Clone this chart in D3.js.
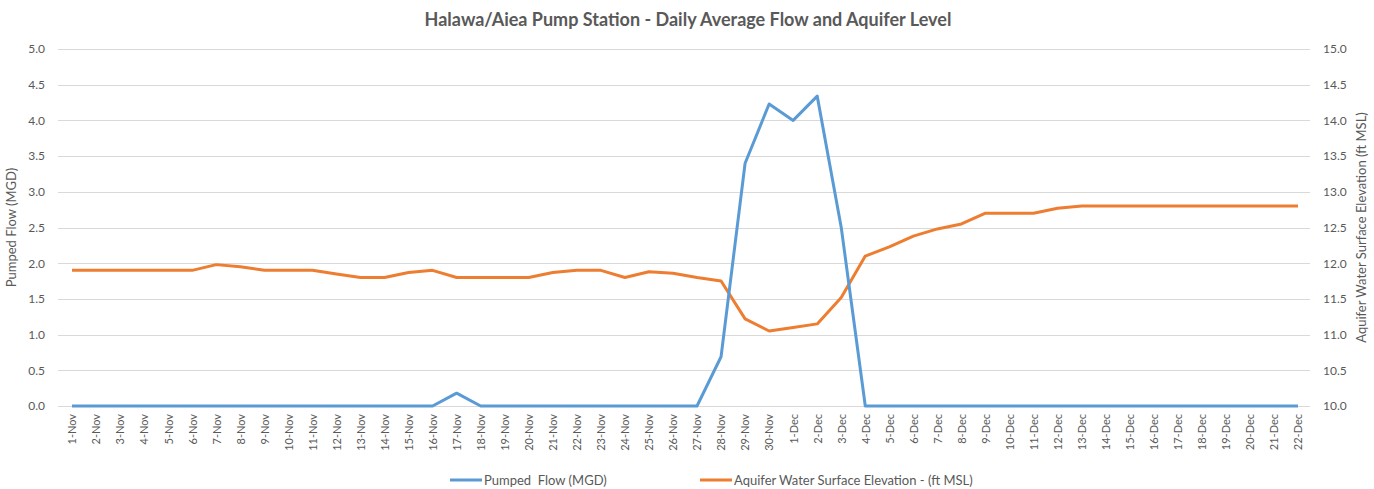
<!DOCTYPE html>
<meta charset="utf-8">
<style>
body { margin: 0; background: #fff; }
text { font-family: Lato, "Open Sans", sans-serif; fill: #595959; }
.grid line { stroke: #d9d9d9; stroke-width: 1px; }
.axis path, .axis line { display: none; }
</style>
<body>
<script src="https://d3js.org/d3.v7.min.js"></script>
<script>

// categories (days)
var days = [];
for (var i = 1; i <= 30; i++) days.push(i + "-Nov");
for (var j = 1; j <= 22; j++) days.push(j + "-Dec");

// pumped flow (MGD), left axis
var flow = [0,0,0,0,0,0,0,0,0,0,0,0,0,0,0,0,0.18,0,0,0,0,0,0,0,0,0,0,0.69,3.4,4.23,4.0,4.34,2.5,
	0,0,0,0,0,0,0,0,0,0,0,0,0,0,0,0,0,0,0];

// aquifer elevation (ft MSL), right axis
var level = [11.9,11.9,11.9,11.9,11.9,11.9,11.98,11.95,11.9,11.9,11.9,11.85,11.8,11.8,11.87,11.9,
	11.8,11.8,11.8,11.8,11.87,11.9,11.9,11.8,11.88,11.86,11.8,11.75,11.22,11.05,
	11.1,11.15,11.52,12.1,12.23,12.38,12.48,12.55,12.7,12.7,12.7,12.77,12.8,12.8,12.8,
	12.8,12.8,12.8,12.8,12.8,12.8,12.8];

var leftTicks = [0,0.5,1,1.5,2,2.5,3,3.5,4,4.5,5];
var rightTicks = [10,10.5,11,11.5,12,12.5,13,13.5,14,14.5,15];

var W = 1374, H = 489;
var margin = {top: 49, right: 64, bottom: 83, left: 60};

var svg = d3.select("body").append("svg")
	.attr("width", W)
	.attr("height", H);

var x = d3.scalePoint()
	.domain(days)
	.range([margin.left, W - margin.right])
	.padding(0.5);

var yL = d3.scaleLinear().domain([0, 5]).range([H - margin.bottom, margin.top]);
var yR = d3.scaleLinear().domain([10, 15]).range([H - margin.bottom, margin.top]);

// gridlines
svg.append("g").attr("class", "grid")
	.selectAll("line")
	.data(leftTicks)
	.enter().append("line")
		.attr("x1", margin.left - 2)
		.attr("x2", W - margin.right)
		.attr("y1", function(d) { return Math.round(yL(d)) + 0.5; })
		.attr("y2", function(d) { return Math.round(yL(d)) + 0.5; });

// left axis
svg.append("g").attr("class", "axis")
	.attr("transform", "translate(" + (margin.left - 12) + ",0)")
	.call(d3.axisLeft(yL).tickValues(leftTicks).tickFormat(d3.format(".1f")).tickSize(0))
	.selectAll("text").style("font-size", "12px").attr("fill", "#595959");

// right axis
svg.append("g").attr("class", "axis")
	.attr("transform", "translate(" + (W - margin.right + 10) + ",0)")
	.call(d3.axisRight(yR).tickValues(rightTicks).tickFormat(d3.format(".1f")).tickSize(0))
	.selectAll("text").style("font-size", "12px").attr("fill", "#595959");

// x axis labels
svg.append("g").attr("class", "axis")
	.attr("transform", "translate(0," + (H - margin.bottom + 4) + ")")
	.call(d3.axisBottom(x).tickSize(0))
	.selectAll("text")
		.style("font-size", "11px")
		.attr("fill", "#595959")
		.attr("text-anchor", "end")
		.attr("transform", "rotate(-90)")
		.attr("x", -4)
		.attr("y", 0)
		.attr("dy", "0.35em");

// lines
var flowLine = d3.line()
	.x(function(d, i) { return x(days[i]); })
	.y(function(d) { return yL(d); });

var levelLine = d3.line()
	.x(function(d, i) { return x(days[i]); })
	.y(function(d) { return yR(d); });

svg.append("path")
	.datum(level)
	.attr("fill", "none")
	.attr("stroke", "#ED7D31")
	.attr("stroke-width", 3)
	.attr("stroke-linejoin", "round")
	.attr("d", levelLine);

svg.append("path")
	.datum(flow)
	.attr("fill", "none")
	.attr("stroke", "#5B9BD5")
	.attr("stroke-width", 3)
	.attr("stroke-linejoin", "round")
	.attr("d", flowLine);

// title
svg.append("text")
	.attr("x", 688)
	.attr("y", 26)
	.attr("text-anchor", "middle")
	.style("font-size", "18px")
	.style("font-weight", "bold")
	.text("Halawa/Aiea Pump Station - Daily Average Flow and Aquifer Level");

// axis titles
svg.append("text")
	.attr("transform", "translate(16," + ((margin.top + H - margin.bottom) / 2) + ") rotate(-90)")
	.attr("text-anchor", "middle")
	.style("font-size", "13px")
	.text("Pumped Flow (MGD)");

svg.append("text")
	.attr("transform", "translate(1366," + ((margin.top + H - margin.bottom) / 2) + ") rotate(-90)")
	.attr("text-anchor", "middle")
	.style("font-size", "13px")
	.text("Aquifer Water Surface Elevation (ft MSL)");

// legend
var legend = [
	{name: "Pumped  Flow (MGD)", color: "#5B9BD5", x: 450},
	{name: "Aquifer Water Surface Elevation - (ft MSL)", color: "#ED7D31", x: 700}
];
var lg = svg.selectAll(".legend")
	.data(legend)
	.enter().append("g")
		.attr("class", "legend")
		.attr("transform", function(d) { return "translate(" + d.x + ",480)"; });
lg.append("line")
	.attr("x1", 0).attr("x2", 32)
	.attr("stroke", function(d) { return d.color; })
	.attr("stroke-width", 3);
lg.append("text")
	.attr("x", 34)
	.attr("dy", "0.35em")
	.style("font-size", "13px")
	.style("white-space", "pre")
	.text(function(d) { return d.name; });

</script>
</body>
